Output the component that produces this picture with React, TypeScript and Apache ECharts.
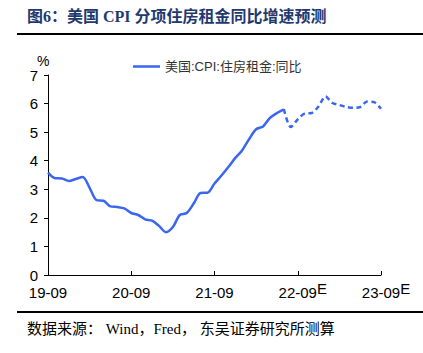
import React, { useEffect, useRef } from "react";
import * as echarts from "echarts";

const months: string[] = [
  "19-09","19-10","19-11","19-12","20-01","20-02","20-03","20-04","20-05","20-06","20-07","20-08",
  "20-09","20-10","20-11","20-12","21-01","21-02","21-03","21-04","21-05","21-06","21-07","21-08",
  "21-09","21-10","21-11","21-12","22-01","22-02","22-03","22-04","22-05","22-06","22-07","22-08",
  "22-09","22-10","22-11","22-12","23-01","23-02","23-03","23-04","23-05","23-06","23-07","23-08",
  "23-09",
];

const actual: number[] = [
  3.58, 3.39, 3.38, 3.29, 3.36, 3.43, 3.05, 2.62, 2.6, 2.4, 2.38, 2.33,
  2.17, 2.1, 1.95, 1.9, 1.72, 1.5, 1.68, 2.1, 2.17, 2.5, 2.87, 2.88,
  3.2, 3.48, 3.78, 4.1, 4.37, 4.76, 5.1, 5.2, 5.5, 5.67, 5.8,
];

const forecast: number[] = [
  5.8, 5.18, 5.45, 5.65, 5.67, 5.9, 6.25, 6.02, 5.95, 5.88, 5.85, 5.88, 6.07, 6.05, 5.82,
];

const estimatedYears: string[] = ["22-09", "23-09"];

const seriesName = "美国:CPI:住房租金:同比";
const titleText = "图6：美国 CPI 分项住房租金同比增速预测";
const sourceText = "数据来源： Wind，Fred， 东吴证券研究所测算";

export default function App() {
  const ref = useRef<HTMLDivElement>(null);
  useEffect(() => {
    if (!ref.current) return;
    const chart = echarts.init(ref.current, undefined, { renderer: "svg" });
    const n = months.length;
    const actualData = months.map((_, i) => (i < actual.length ? actual[i] : null));
    const offset = n - forecast.length;
    const forecastData = months.map((_, i) => (i >= offset ? forecast[i - offset] : null));
    const color = "#3a66f0";
    chart.setOption({
      animation: false,
      grid: { left: 48, right: 42, top: 75, bottom: 78, containLabel: false },
      legend: {
        data: [seriesName],
        left: 128,
        top: 55,
        icon: "rect",
        itemWidth: 27,
        itemHeight: 2.5,
        itemGap: 6,
        textStyle: { fontSize: 13, color: "#333", fontFamily: "Liberation Sans, Noto Sans CJK SC" },
      },
      xAxis: {
        type: "category",
        data: months,
        boundaryGap: false,
        axisLine: { lineStyle: { color: "#000", width: 1 } },
        axisTick: { interval: 11, inside: true, length: 4, lineStyle: { color: "#000" } },
        axisLabel: {
          interval: 11,
          margin: 6,
          color: "#000",
          fontSize: 15,
          fontFamily: "Liberation Sans",
          formatter: (v: string) =>
            estimatedYears.includes(v) ? `{p|}{a|${v}}{e|E}` : `{a|${v}}`,
          rich: {
            a: { fontSize: 15, fontFamily: "Liberation Sans", color: "#000", lineHeight: 22 },
            p: { width: 10, lineHeight: 22 },
            e: { fontSize: 15, fontFamily: "Liberation Sans", color: "#000", lineHeight: 22, padding: [0, 0, 7, 0] },
          },
        },
        splitLine: { show: false },
      },
      yAxis: {
        type: "value",
        min: 0,
        max: 7,
        interval: 1,
        axisLine: { show: true, lineStyle: { color: "#000", width: 1 } },
        axisTick: { show: true, length: 4, lineStyle: { color: "#000" } },
        axisLabel: { margin: 10, color: "#000", fontSize: 15, fontFamily: "Liberation Sans" },
        splitLine: { show: false },
      },
      series: [
        {
          name: seriesName,
          type: "line",
          data: actualData,
          smooth: 0.3,
          symbol: "none",
          lineStyle: { color, width: 2.5 },
          itemStyle: { color },
        },
        {
          name: seriesName,
          type: "line",
          data: forecastData,
          smooth: 0.3,
          symbol: "none",
          lineStyle: { color, width: 2.5, type: [5, 3.5] },
          itemStyle: { color },
        },
      ],
      graphic: [
        {
          type: "text",
          left: 27,
          top: 8,
          style: {
            text: titleText,
            fontSize: 16,
            fontWeight: "bold",
            fill: "#1f3a6e",
            fontFamily: "Liberation Serif, Noto Sans CJK SC",
          },
        },
        { type: "rect", shape: { x: 17, y: 33, width: 406, height: 2 }, style: { fill: "#000" } },
        { type: "rect", shape: { x: 17, y: 311, width: 406, height: 2 }, style: { fill: "#000" } },
        {
          type: "text",
          left: 27,
          top: 321,
          style: {
            text: sourceText,
            fontSize: 15,
            fill: "#000",
            fontFamily: "Liberation Serif, Noto Sans CJK SC",
          },
        },
        {
          type: "text",
          left: 37,
          top: 54,
          style: { text: "%", fontSize: 14, fill: "#000", fontFamily: "Liberation Sans" },
        },
      ],
    });
    return () => chart.dispose();
  }, []);
  return (
    <div
      ref={ref}
      style={{ position: "absolute", left: 0, top: 0, width: 423, height: 353 }}
    />
  );
}
